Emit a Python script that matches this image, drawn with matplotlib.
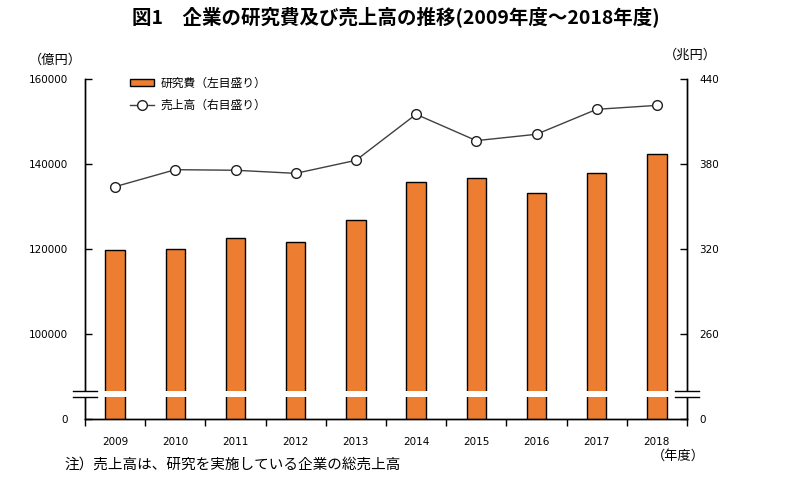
import matplotlib
matplotlib.use('Agg')
import matplotlib.pyplot as plt
from matplotlib.patches import Patch, Rectangle
from matplotlib.lines import Line2D

plt.rcParams['font.family'] = ['Noto Sans CJK JP', 'DejaVu Sans']

years = ['2009', '2010', '2011', '2012', '2013', '2014', '2015', '2016', '2017', '2018']
rd_cost = [119838, 120100, 122718, 121705, 126920, 135864, 136857, 133183, 137989, 142316]  # 億円
sales = [364.2, 376.2, 375.8, 373.6, 382.8, 415.3, 396.7, 401.2, 418.8, 421.6]  # 兆円

left_ticks = [80000, 100000, 120000, 140000, 160000]
left_labels = ['0', '100000', '120000', '140000', '160000']
right_ticks = [200, 260, 320, 380, 440]
right_labels = ['0', '260', '320', '380', '440']

W, H = 793, 493
fig = plt.figure(figsize=(W / 100, H / 100), dpi=100)


def px(x, y):
    return x / W, 1 - y / H


ax = fig.add_axes([85 / W, 1 - 419.3 / H, 602 / W, 340 / H])
ax2 = ax.twinx()

x = list(range(len(years)))
ax.bar(x, rd_cost, width=0.32, color='#ED7D31', edgecolor='black', linewidth=1.0, zorder=2)
ax2.plot(x, sales, color='#404040', linewidth=1.0, marker='o', markersize=7,
         markerfacecolor='white', markeredgecolor='#202020', markeredgewidth=1.0, zorder=3)

ax.set_xlim(-0.5, len(years) - 0.5)
ax.set_ylim(80000, 160000)
ax2.set_ylim(200, 440)

for a in (ax, ax2):
    a.spines['top'].set_visible(False)
    for s in a.spines.values():
        s.set_linewidth(1.0)

ax.set_xticks(x)
ax.set_xticklabels(years, family='DejaVu Sans', fontsize=7.5)
ax.set_xticks([i - 0.5 for i in range(len(years) + 1)], minor=True)
ax.tick_params(axis='x', which='major', length=0, pad=13)
ax.tick_params(axis='x', which='minor', length=5, width=1.0, direction='out')

ax.set_yticks(left_ticks)
ax.set_yticklabels(left_labels, family='DejaVu Sans', fontsize=7.5)
ax.tick_params(axis='y', direction='in', length=5, width=1.0, pad=12)

ax2.set_yticks(right_ticks)
ax2.set_yticklabels(right_labels, family='DejaVu Sans', fontsize=7.5)
ax2.tick_params(axis='y', direction='in', length=5, width=1.0, pad=9)

# axis break
y0, y1 = 0.0656, 0.0847
ax2.add_patch(Rectangle((-0.02, y0), 1.04, y1 - y0, transform=ax2.transAxes,
                        facecolor='white', edgecolor='none', clip_on=False, zorder=5))
for xc in (0.0, 1.0):
    for yy in (y0, y1):
        ax2.add_line(Line2D([xc - 0.02, xc + 0.02], [yy, yy], transform=ax2.transAxes,
                            color='black', linewidth=1.0, clip_on=False, zorder=6))

handles = [Patch(facecolor='#ED7D31', edgecolor='black', linewidth=1.0),
           Line2D([0], [0], color='#404040', linewidth=1.0, marker='o', markersize=7,
                  markerfacecolor='white', markeredgecolor='#202020')]
fig.legend(handles, ['研究費（左目盛り）', '売上高（右目盛り）'], loc='upper left',
           bbox_to_anchor=px(119, 66), frameon=False, fontsize=8.5,
           handlelength=2.1, handleheight=0.6, handletextpad=0.5, labelspacing=0.75)

fig.text(*px(396, 17), '図1　企業の研究費及び売上高の推移(2009年度～2018年度)',
         ha='center', va='center', fontsize=14, fontweight='bold')
fig.text(*px(55, 60), '（億円）', ha='center', va='center', fontsize=9.5)
fig.text(*px(690, 55), '（兆円）', ha='center', va='center', fontsize=9.5)
fig.text(*px(678, 456), '（年度）', ha='center', va='center', fontsize=9.5)
fig.text(*px(64, 465), '注）売上高は、研究を実施している企業の総売上高',
         ha='left', va='center', fontsize=10.5)

fig.savefig('out.png', dpi=100)
